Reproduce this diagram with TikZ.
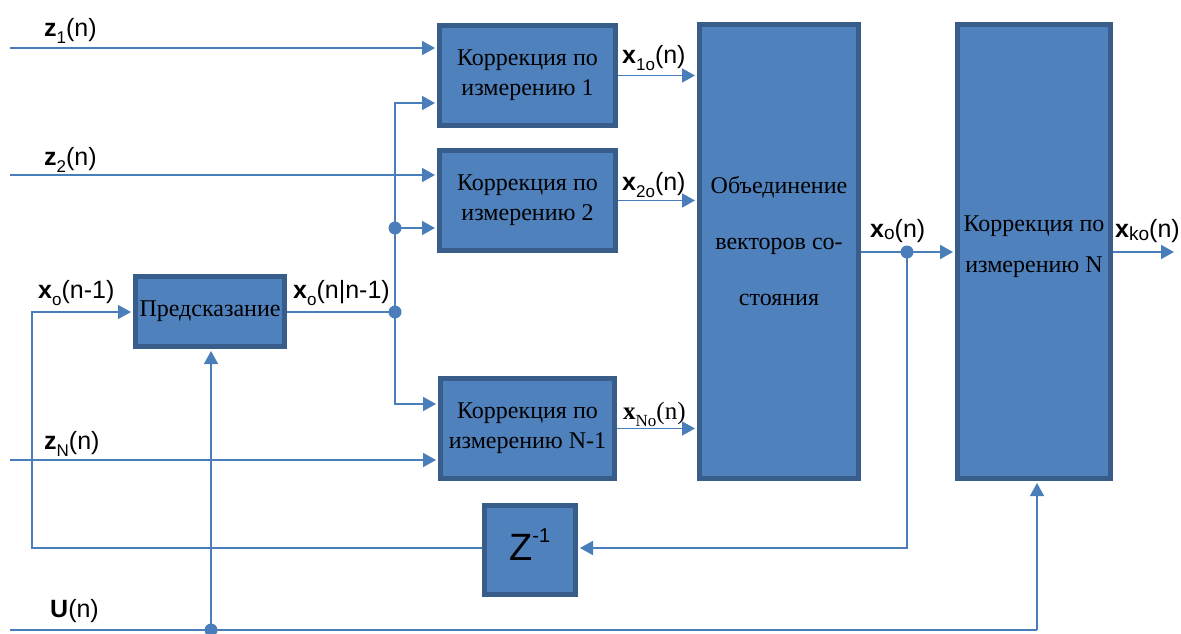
\documentclass[tikz,border=0pt]{standalone}
\usepackage{fontspec}
\setmainfont{Liberation Serif}
\setsansfont{Liberation Sans}
\usetikzlibrary{arrows.meta}
\definecolor{fillb}{HTML}{4F81BD}
\definecolor{edgeb}{HTML}{385D8A}
\definecolor{lineb}{HTML}{4A7EBB}
\newcommand\lbsub[1]{\raisebox{-7pt}{\fontsize{17}{17}\selectfont #1}}
\begin{document}
\begin{tikzpicture}[x=1pt,y=-1pt,
  blk/.style={draw=edgeb, fill=fillb, line width=5pt, inner sep=0pt, align=center,
    font=\rmfamily\fontsize{24}{30}\selectfont},
  btext/.style={inner sep=0pt, align=center, font=\rmfamily\fontsize{24}{30}\selectfont},
  conn/.style={draw=lineb, line width=1.8pt, shorten >=2pt, -{Triangle[length=13pt,width=14pt]}},
  wire/.style={draw=lineb, line width=1.8pt},
  thin/.style={line width=1.4pt},
  dot/.style={circle, fill=lineb, inner sep=0pt, minimum size=13pt},
  lbl/.style={font=\sffamily\fontsize{25}{25}\selectfont, inner sep=0pt, anchor=base west}]
\useasboundingbox (0,0) rectangle (1181,633);
% blocks
\node[blk, minimum width=176pt, minimum height=100pt] (Corr1) at (527.5,75.5) {Коррекция по\\измерению 1};
\node[blk, minimum width=176pt, minimum height=100pt] (Corr2) at (527.5,200.5) {Коррекция по\\измерению 2};
\node[blk, minimum width=174pt, minimum height=100pt] (CorrNm) at (527.5,428.5) {Коррекция по\\измерению N-1};
\node[blk, minimum width=149pt, minimum height=70pt] (Pred) at (210,311.5) {Предсказание};
\node[blk, minimum width=159pt, minimum height=454pt] (Obj) at (779,251.5) {};
\node[btext, font=\rmfamily\fontsize{24}{56}\selectfont] (ObjT) at (779,241) {Объединение\\векторов со-\\стояния};
\node[blk, minimum width=153pt, minimum height=454pt] (CorrN) at (1034,251.5) {};
\node[btext, font=\rmfamily\fontsize{24}{41}\selectfont] (CorrNT) at (1034,247) {Коррекция по\\измерению N};
\node[blk, minimum width=91pt, minimum height=89pt] (Zb) at (530,550) {};
\node[inner sep=0pt, anchor=base west, font=\sffamily\fontsize{38}{38}\selectfont] (Zt) at (509,560) {Z\raisebox{18pt}{\fontsize{20}{20}\selectfont -1}};
% measurement inputs
\coordinate (z1in) at (10,48);
\coordinate (z2in) at (10,175);
\coordinate (zNin) at (10,460);
\draw[conn] (z1in) -- (z1in -| Corr1.west);
\draw[conn] (z2in) -- (z2in -| Corr2.west);
\draw[conn] (zNin) -- (zNin -| CorrNm.west);
% prediction bus
\node[dot] (d1) at (395,228) {};
\node[dot] (d2) at (395,312) {};
\coordinate (bt) at (395,103);
\coordinate (bb) at (395,404);
\draw[wire] (d2 -| Pred.east) -- (d2.center);
\draw[conn] (d2.center) -- (bt) -- (bt -| Corr1.west);
\draw[conn] (d2.center) -- (bb) -- (bb -| CorrNm.west);
\draw[conn] (d1.center) -- (d1 -| Corr2.west);
% correction outputs
\draw[conn] (Corr1.east) -- (Corr1.east -| Obj.west);
\draw[conn] (Corr2.east) -- (Corr2.east -| Obj.west);
\draw[conn] (CorrNm.east) -- (CorrNm.east -| Obj.west);
% x_o(n)
\node[dot] (xd) at (907,252) {};
\coordinate (xb) at (907,548);
\coordinate (out) at (1176,252);
\draw[conn] (Obj.east |- xd) -- (CorrN.west |- xd);
\draw[conn] (xd.center) -- (xb) -- (xb -| Zb.east);
\draw[conn] (CorrN.east |- out) -- (out);
% feedback loop
\coordinate (fb1) at (32,312);
\coordinate (fb2) at (32,548);
\draw[conn, thin] (fb2 -| Zb.west) -- (fb2) -- (fb1) -- (fb1 -| Pred.west);
% control input
\coordinate (u0) at (10,630);
\node[dot] (ud) at (211,630) {};
\coordinate (u1) at (1037,630);
\draw[wire] (u0) -- (u1);
\draw[conn, thin] (u1) -- (u1 |- CorrN.south);
\draw[conn, thin] (ud.center) -- (ud |- Pred.south);
% labels
\node[lbl] (lz1) at (44,36) {\textbf{z}\lbsub{1}(n)};
\node[lbl] (lz2) at (44,165) {\textbf{z}\lbsub{2}(n)};
\node[lbl] (lzN) at (44,449) {\textbf{z}\lbsub{N}(n)};
\node[lbl] (lxp) at (38,298) {\textbf{x}\lbsub{o}(n-1)};
\node[lbl] (lxq) at (293,298) {\textbf{x}\lbsub{o}(n|n-1)};
\node[lbl] (lx1) at (622,63) {\textbf{x}\lbsub{1o}(n)};
\node[lbl] (lx2) at (622,190) {\textbf{x}\lbsub{2o}(n)};
\node[lbl, font=\rmfamily\fontsize{25}{25}\selectfont] (lxN) at (623,419) {\textbf{x}\lbsub{No}(n)};
\node[lbl] (lxo) at (870,237) {\textbf{x}\raisebox{-2pt}{\fontsize{19}{19}\selectfont o}(n)};
\node[lbl] (lxk) at (1115,237) {\textbf{x}\raisebox{-3pt}{\fontsize{19}{19}\selectfont ko}(n)};
\node[lbl] (lU) at (50,617) {\textbf{U}(n)};
\end{tikzpicture}
\end{document}
